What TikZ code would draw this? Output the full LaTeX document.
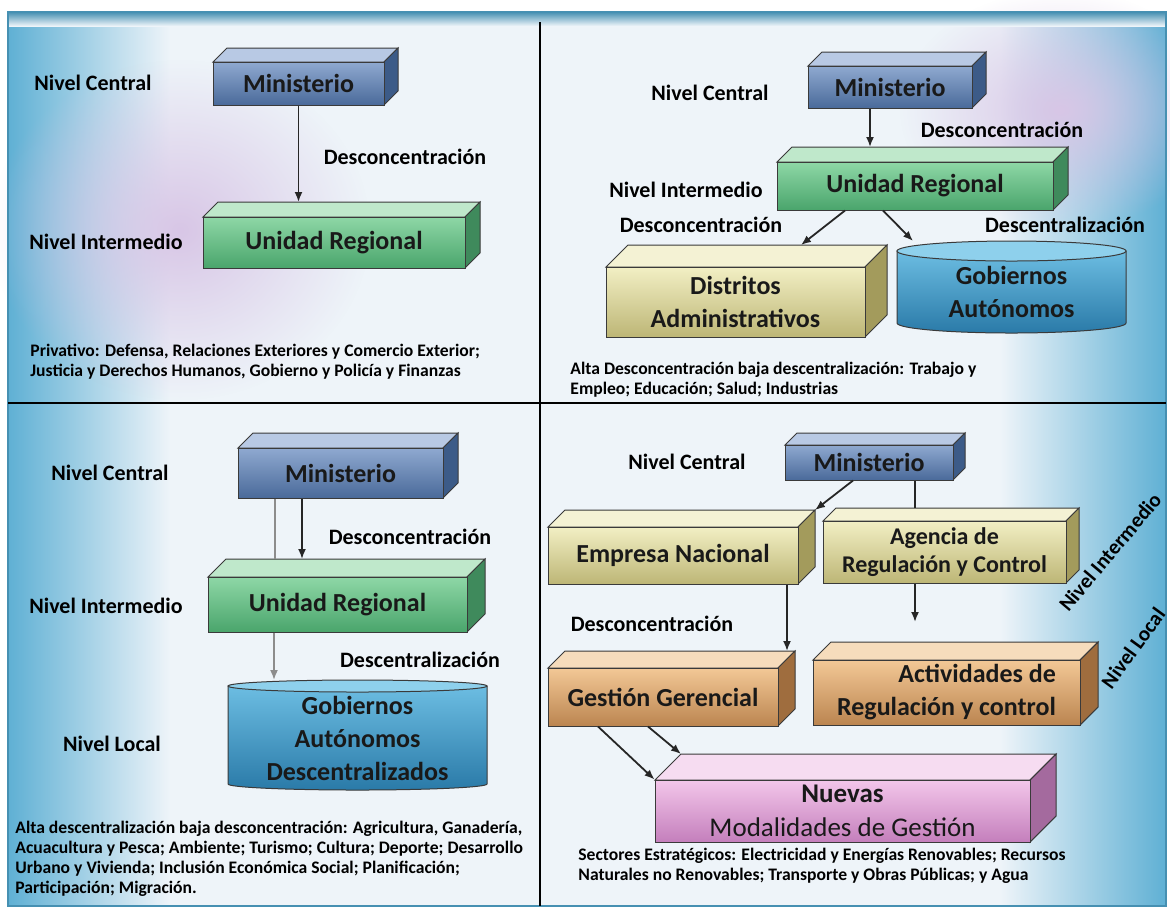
\documentclass[tikz,border=0pt]{standalone}
\usepackage{fontspec}
\setmainfont{Carlito}
\usetikzlibrary{arrows.meta,calc,fadings}

\definecolor{borde}{HTML}{3A3A3A}
\definecolor{fondo}{HTML}{EEF4F9}
\definecolor{fondoazul}{HTML}{5FB0D4}
\definecolor{banda}{HTML}{4690B2}
\definecolor{lavanda}{HTML}{D8C6E6}
% colores de las cajas: A arriba, B abajo, T cara superior, S lado
\definecolor{azulA}{HTML}{8FA9D0}\definecolor{azulB}{HTML}{4A6A9A}
\definecolor{azulT}{HTML}{B8C9E4}\definecolor{azulS}{HTML}{3C5B88}
\definecolor{verdeA}{HTML}{8ED7A6}\definecolor{verdeB}{HTML}{4AA56C}
\definecolor{verdeT}{HTML}{BFE8CB}\definecolor{verdeS}{HTML}{3F8A5C}
\definecolor{caquiA}{HTML}{F2EFC4}\definecolor{caquiB}{HTML}{BDB676}
\definecolor{caquiT}{HTML}{F4F2D4}\definecolor{caquiS}{HTML}{A39B5C}
\definecolor{naranjaA}{HTML}{F3C896}\definecolor{naranjaB}{HTML}{BB8550}
\definecolor{naranjaT}{HTML}{F6DCBC}\definecolor{naranjaS}{HTML}{9F6D3E}
\definecolor{rosaA}{HTML}{F3C6EA}\definecolor{rosaB}{HTML}{C47FBC}
\definecolor{rosaT}{HTML}{F6DCF1}\definecolor{rosaS}{HTML}{A46A9E}
\definecolor{cilA}{HTML}{6CBDE2}\definecolor{cilB}{HTML}{2A7AA8}
\definecolor{cilT}{HTML}{8ED0EC}

\tikzfading[name=desvanecer,inner color=transparent!0,outer color=transparent!100]

% caja 3D: [opciones]{nombre}{x1}{y1}{x2}{y2}{fondo}{color}{texto}
\newcommand{\caja}[9][]{%
  \filldraw[fill=#8T,draw=borde,line width=0.5pt] (#3,#4) -- ({#3+#7},{#4-#7}) -- ({#5+#7},{#4-#7}) -- (#5,#4) -- cycle;
  \filldraw[fill=#8S,draw=borde,line width=0.5pt] (#5,#4) -- ({#5+#7},{#4-#7}) -- ({#5+#7},{#6-#7}) -- (#5,#6) -- cycle;
  \node[caja,top color=#8A,bottom color=#8B,minimum width={(#5-#3)*0.5pt},minimum height={(#6-#4)*0.5pt},#1] (#2) at ({(#3+#5)/2},{(#4+#6)/2}) {#9};
  \coordinate (#2top) at ({(#3+#5+#7)/2},{#4-#7});
  \coordinate (#2tl) at ({#3+#7},{#4-#7});
  \coordinate (#2tr) at ({#5+#7},{#4-#7});}
% cilindro: {nombre}{x1}{y1}{x2}{y2}{radio y}{texto}
\newcommand{\cilindro}[7]{%
  \shade[top color=cilA,bottom color=cilB,draw=borde,line width=0.5pt] (#2,#3) -- (#2,#5) arc[start angle=180,end angle=0,x radius={(#4-#2)/2},y radius=#6] -- (#4,#3) -- cycle;
  \filldraw[fill=cilT,draw=borde,line width=0.5pt] ({(#2+#4)/2},#3) ellipse[x radius={(#4-#2)/2},y radius=#6];
  \node[caja,draw=none,minimum width={(#4-#2)*0.5pt},minimum height={(#5-#3)*0.5pt}] (#1) at ({(#2+#4)/2},{(#3+#5)/2+#6/2}) {#7};
  \coordinate (#1top) at ({(#2+#4)/2},{#3-#6});}

\begin{document}
\begin{tikzpicture}[x=0.5pt,y=-0.5pt,>={Latex[length=5pt,width=4pt]},font=\bfseries,
  nivel/.style={font=\fontsize{11}{13}\selectfont\bfseries},
  rotulo/.style={font=\fontsize{11}{13}\selectfont\bfseries},
  nota/.style={font=\fontsize{8.8}{10}\selectfont\bfseries,align=left,anchor=west,inner sep=0pt},
  caja/.style={draw=borde,line width=0.5pt,inner sep=0pt,align=center,text=black!90,font=\fontsize{13}{16.5}\selectfont\bfseries},
  flecha/.style={->,line width=0.9pt,draw=black!85},
  linea/.style={line width=0.9pt,draw=black!85},
  gris/.style={line width=0.9pt,draw=black!45}]
\useasboundingbox (0,0) rectangle (1170,912);
% fondo
\fill[white] (0,0) rectangle (1170,912);
\fill[fondo] (8,12) rectangle (1166,906);
\shade[left color=fondoazul,right color=fondo] (8,12) rectangle (170,906);
\shade[left color=fondo,right color=fondoazul] (1000,12) rectangle (1166,906);
\fill[lavanda,path fading=desvanecer] (180,230) ellipse[x radius=190,y radius=170];
\fill[lavanda,path fading=desvanecer] (1060,110) ellipse[x radius=160,y radius=120];
\shade[top color=banda,bottom color=fondo] (8,12) rectangle (1166,26);
\draw[banda,line width=1pt] (8,12) rectangle (1166,906);
\draw[line width=1.2pt] (540,22) -- (540,906);
\draw[line width=1.2pt] (8,403) -- (1166,403);

% arriba izquierda
\node[nivel] (ncTL) at (93,83) {Nivel Central};
\node[nivel] (niTL) at (106,242) {Nivel Intermedio};
\caja{minTL}{213}{62}{384}{105}{14}{azul}{Ministerio}
\caja{urTL}{203}{217}{465}{268}{15}{verde}{Unidad Regional}
\draw[flecha] (minTL.south) -- (minTL.south |- urTLtop);
\node[rotulo] (dcTL) at (405,157) {Desconcentración};
\node[nota] (notaTL) at (30,362) {Privativo: Defensa, Relaciones Exteriores y Comercio Exterior;\\Justicia y Derechos Humanos, Gobierno y Policía y Finanzas};

% arriba derecha
\node[nivel] (ncTR) at (710,93) {Nivel Central};
\node[nivel] (niTR) at (686,190) {Nivel Intermedio};
\caja{minTR}{808}{66}{972}{108}{14}{azul}{Ministerio}
\caja{urTR}{777}{162}{1053}{210}{15}{verde}{Unidad Regional}
\caja{dist}{606}{267}{865}{337}{22}{caqui}{Distritos\\Administrativos}
\cilindro{gobTR}{897}{251}{1126}{323}{10}{Gobiernos\\Autónomos}
\draw[flecha] (minTR.south -| 870,0) -- (urTRtop -| 870,0);
\draw[flecha] (urTR.south -| 845,0) -- (disttop -| 801,0);
\draw[flecha] (urTR.south -| 883,0) -- (gobTRtop -| 913,0);
\node[rotulo] (dcTR) at (1002,130) {Desconcentración};
\node[rotulo] (dcTR2) at (701,225) {Desconcentración};
\node[rotulo] (deTR) at (1065,225) {Descentralización};
\node[nota] (notaTR) at (570,380) {Alta Desconcentración baja descentralización: Trabajo y\\Empleo; Educación; Salud; Industrias};

% abajo izquierda
\node[nivel] (ncBL) at (110,473) {Nivel Central};
\node[nivel] (niBL) at (106,606) {Nivel Intermedio};
\node[nivel] (nlBL) at (112,744) {Nivel Local};
\caja{minBL}{238}{448}{443}{498}{15}{azul}{Ministerio}
\caja{urBL}{208}{577}{467}{632}{18}{verde}{Unidad Regional}
\cilindro{gobBL}{228}{686}{487}{784}{6}{Gobiernos\\Autónomos\\Descentralizados}
\draw[gris] (minBL.south -| 275,0) -- (urBLtop -| 275,0);
\draw[flecha] (minBL.south -| 302,0) -- (urBLtop -| 302,0);
\draw[flecha,gris] (urBL.south -| 274,0) -- (gobBLtop -| 274,0);
\node[rotulo] (dcBL) at (410,537) {Desconcentración};
\node[rotulo] (deBL) at (420,660) {Descentralización};
\node[nota] (notaBL) at (15,859) {Alta descentralización baja desconcentración: Agricultura, Ganadería,\\Acuacultura y Pesca; Ambiente; Turismo; Cultura; Deporte; Desarrollo\\Urbano y Vivienda; Inclusión Económica Social; Planificación;\\Participación; Migración.};

% abajo derecha
\node[nivel] (ncBR) at (687,462) {Nivel Central};
\caja{minBR}{785}{445}{953}{480}{12}{azul}{Ministerio}
\caja{emp}{548}{527}{798}{584}{17}{caqui}{Empresa Nacional}
\caja[font=\fontsize{12}{14}\selectfont\bfseries]{agen}{823}{521}{1066}{583}{13}{caqui}{Agencia de\\Regulación y Control}
\caja{gest}{548}{668}{778}{726}{17}{naranja}{Gestión Gerencial}
\caja[align=right]{act}{813}{660}{1080}{725}{18}{naranja}{Actividades de\\Regulación y control}
\caja[font=\fontsize{13.5}{17}\selectfont\bfseries]{nuev}{655}{780}{1030}{842}{26}{rosa}{Nuevas\\\mdseries Modalidades de Gestión}
\coordinate (finAgen) at (915,622);
\draw[flecha] (minBR.south -| 853,0) -- (emptr);
\draw[linea] (minBR.south -| 915,0) -- (agentop -| 915,0);
\draw[flecha] (emp.south -| 787,0) -- (gesttop -| 787,0);
\draw[flecha] (agen.south -| 915,0) -- (finAgen);
\draw[flecha] (gest.south -| 598,0) -- (nuev.north west);
\draw[flecha] (gest.south -| 648,0) -- (nuevtl);
\node[rotulo] (dcBR) at (652,624) {Desconcentración};
\node[nivel,font=\fontsize{10.5}{12}\selectfont\bfseries,rotate=50,inner sep=1pt] (niBR) at (1110,552) {Nivel Intermedio};
\node[nivel,font=\fontsize{10.5}{12}\selectfont\bfseries,rotate=54,inner sep=1pt] (nlBR) at (1133,648) {Nivel Local};
\node[nota] (notaBR) at (578,866) {Sectores Estratégicos: Electricidad y Energías Renovables; Recursos\\Naturales no Renovables; Transporte y Obras Públicas; y Agua};
\end{tikzpicture}
\end{document}
